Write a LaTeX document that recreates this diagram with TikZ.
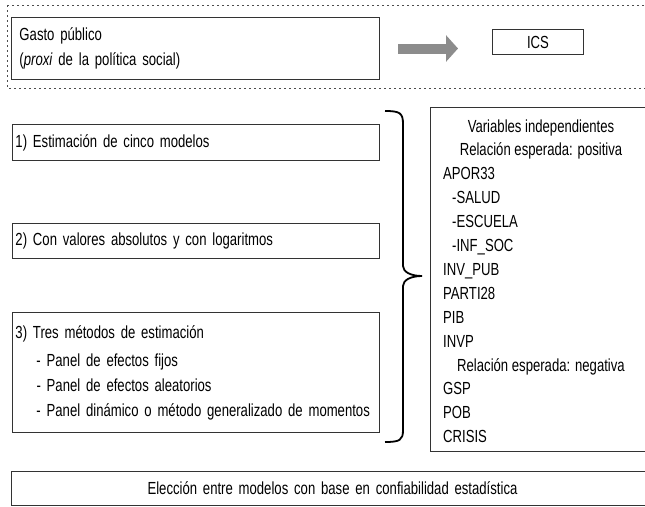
\documentclass[tikz,border=0pt]{standalone}
\usepackage{fontspec}
\setmainfont{Liberation Sans}[FakeStretch=0.75]
\usetikzlibrary{arrows.meta}

\begin{document}
\begin{tikzpicture}[x=1pt,y=-1pt,
	every node/.style={font=\fontsize{17.5}{25}\selectfont},
	box/.style={draw=black!80,line width=1pt,anchor=north west,inner xsep=3pt,inner ysep=0pt,align=left},
	frame/.style={draw=black!70,line width=0.8pt,dash pattern=on 2pt off 3pt},
	bigarrow/.style={draw=black!45,line width=10pt,-{Triangle[length=12pt,width=26pt]}},
	varline/.style={inner sep=0pt}]
	\useasboundingbox (0,0) rectangle (645,506);
	\draw[frame] (7,5) rectangle (660,88);
	\node[box,inner xsep=8pt,text width=352pt,minimum height=62pt] (gasto) at (11,17) {Gasto público\\(\textit{proxi} de la política social)};
	\node[box,align=center,minimum width=91pt,minimum height=25pt] (ics) at (492,29) {ICS};
	\draw[bigarrow] ([xshift=18pt]gasto.east) -- ([xshift=-34pt]ics.west |- gasto.east);
	%steps
	\node[box,text width=361pt,minimum height=36pt] (est) at (12,124) {1) Estimación de cinco modelos};
	\node[box,text width=361pt,minimum height=35pt] (vals) at (12,223) {2) Con valores absolutos y con logaritmos};
	\node[box,text width=361pt,minimum height=120pt] (meth) at (12,312) {3) Tres métodos de estimación\\[3pt]
		\hspace*{21pt}\mbox{- Panel de efectos fijos}\\
		\hspace*{21pt}\mbox{- Panel de efectos aleatorios}\\
		\hspace*{21pt}\mbox{- Panel dinámico o método generalizado de momentos}};
	\draw[line width=1.8pt] (385,111) .. controls (400,111) and (403,113) .. (403,124) -- (403,266)
		.. controls (403,272) and (411,276) .. (422,276) .. controls (411,276) and (403,280) .. (403,286)
		-- (403,430) .. controls (403,440) and (400,442) .. (385,442);
	%variables
	\node[box,minimum width=240pt,minimum height=344pt] (vars) at (430,107) {};
	\foreach \x/\a/\t [count=\i from 0] in {541/base/Variables independientes,541/base/Relación esperada: positiva,
		443/base west/APOR33,452/base west/-SALUD,452/base west/-ESCUELA,452/base west/-INF\_SOC,
		443/base west/INV\_PUB,443/base west/PARTI28,443/base west/PIB,443/base west/INVP,
		541/base/Relación esperada: negativa,443/base west/GSP,443/base west/POB,443/base west/CRISIS}
		\node[varline,anchor=\a] (v\i) at ({\x},{132+23.9*\i}) {\t};
	\node[box,align=center,text width=636pt,minimum height=34pt] (choice) at (11,471) {Elección entre modelos con base en confiabilidad estadística};
\end{tikzpicture}
\end{document}
